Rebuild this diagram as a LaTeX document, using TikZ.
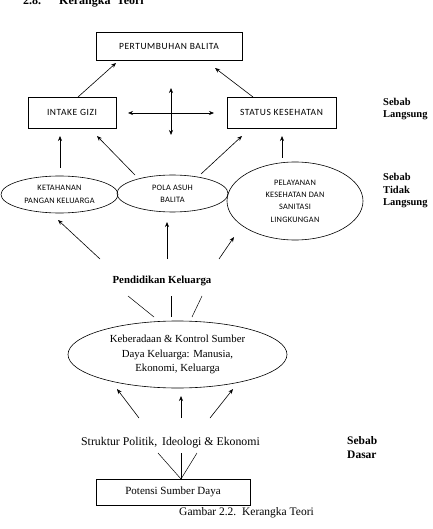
\documentclass[tikz,border=0pt]{standalone}
\usepackage{fontspec}
\setmainfont{Liberation Serif}
\newfontfamily\boxfont{Carlito}[LetterSpace=6]
\newfontfamily\ellfont{Carlito}[LetterSpace=3]
\usetikzlibrary{shapes.geometric,arrows.meta}
\begin{document}
\begin{tikzpicture}[x=1pt,y=-1pt,
  rbox/.style={draw,line width=0.6pt,rectangle,inner sep=0pt,font=\boxfont\fontsize{9.5}{11}\selectfont},
  ell/.style={draw,line width=0.6pt,ellipse,inner sep=0pt,align=center,font=\ellfont\fontsize{8.3}{12.3}\selectfont},
  arr/.style={-{Stealth[length=5pt,width=4pt]},line width=0.6pt},
  dbl/.style={{Stealth[length=5pt,width=4pt]}-{Stealth[length=5pt,width=4pt]},line width=0.6pt},
  ln/.style={line width=0.5pt},
  side/.style={font=\bfseries\fontsize{10.5}{12.3}\selectfont,align=left,anchor=north west,inner sep=0pt}]
\clip (0,0) rectangle (432,529);
\useasboundingbox (0,0) rectangle (432,529);
% heading
\node[anchor=base west,inner sep=0pt,font=\bfseries\fontsize{12}{14}\selectfont] (h1) at (23,4.5) {2.8.};
\node[anchor=base west,inner sep=0pt,font=\bfseries\fontsize{12}{14}\selectfont] (h2) at (59,4.5) {Kerangka\; Teori};
% boxes
\node[rbox,minimum width=146pt,minimum height=28pt] (pb) at (169,46) {PERTUMBUHAN BALITA};
\node[rbox,minimum width=88pt,minimum height=31pt] (ig) at (72,112.5) {INTAKE GIZI};
\node[rbox,minimum width=109pt,minimum height=31pt] (sk) at (281.5,112.5) {STATUS KESEHATAN};
% ellipses
\node[ell,minimum width=117pt,minimum height=37pt] (kp) at (59.5,194.5) {KETAHANAN\\PANGAN KELUARGA};
\node[ell,minimum width=111pt,minimum height=37pt] (pa) at (172.5,193.5) {POLA ASUH\\BALITA};
\node[ell,minimum width=136pt,minimum height=78pt] (pl) at (295,201) {PELAYANAN\\KESEHATAN DAN\\SANITASI\\LINGKUNGAN};
\node[draw,line width=0.6pt,ellipse,inner sep=0pt,align=center,minimum width=219pt,minimum height=67pt,font=\fontsize{10.8}{14.5}\selectfont] (kb) at (177.5,354.5) {Keberadaan \& Kontrol Sumber\\Daya Keluarga: Manusia,\\Ekonomi, Keluarga};
\node[draw,line width=0.6pt,inner sep=0pt,minimum width=154pt,minimum height=26pt,font=\fontsize{11}{12}\selectfont] (ps) at (173,492) {Potensi Sumber Daya};
% texts
\node[font=\bfseries\fontsize{10.8}{12}\selectfont,inner sep=0pt] (pk) at (162,281) {Pendidikan Keluarga};
\node[font=\fontsize{11.8}{14}\selectfont,inner sep=0pt] (sp) at (170.5,443) {Struktur Politik,\, Ideologi \& Ekonomi};
\node[font=\fontsize{11.5}{13}\selectfont,inner sep=0pt,anchor=base west] (gb) at (179,515) {Gambar 2.2.\, Kerangka Teori};
\node[side] (s1) at (383,98) {Sebab\\Langsung};
\node[side] (s2) at (383,173.5) {Sebab\\Tidak\\Langsung};
\node[side,font=\bfseries\fontsize{11.5}{14}\selectfont] (s3) at (347,436.5) {Sebab\\Dasar};
% coordinates
\coordinate (a1s) at (78,97); \coordinate (a1e) at (116,63);
\coordinate (a2s) at (253,97); \coordinate (a2e) at (215,68);
\coordinate (cvT) at (171,88); \coordinate (cvB) at (171,135);
\coordinate (chL) at (128,113); \coordinate (chR) at (214,113);
\coordinate (b1s) at (60,168); \coordinate (b1e) at (60,136);
\coordinate (b2s) at (135,175); \coordinate (b2e) at (97,136);
\coordinate (b3s) at (201,174); \coordinate (b3e) at (242,136);
\coordinate (b4s) at (282,158); \coordinate (b4e) at (282,136);
\coordinate (c1s) at (100,259); \coordinate (c1e) at (58,220);
\coordinate (c2s) at (167,259); \coordinate (c2e) at (167,222);
\coordinate (c3s) at (219,259); \coordinate (c3e) at (234,237);
\coordinate (d1a) at (128,296); \coordinate (d1b) at (154,317);
\coordinate (d2a) at (171,296); \coordinate (d2b) at (171,317);
\coordinate (d3a) at (202,296); \coordinate (d3b) at (192,317);
\coordinate (e1s) at (139,418); \coordinate (e1e) at (117,389);
\coordinate (e2s) at (181,418); \coordinate (e2e) at (181,396);
\coordinate (e3s) at (210,418); \coordinate (e3e) at (233,389);
\coordinate (f0) at (181,479);
\coordinate (f1) at (158,453); \coordinate (f2) at (181,453); \coordinate (f3) at (197,453);
% arrows
\draw[arr] (a1s) -- (a1e);
\draw[arr] (a2s) -- (a2e);
\draw[dbl] (cvT) -- (cvB);
\draw[dbl] (chL) -- (chR);
\draw[arr] (b1s) -- (b1e);
\draw[arr] (b2s) -- (b2e);
\draw[arr] (b3s) -- (b3e);
\draw[arr] (b4s) -- (b4e);
\draw[arr] (c1s) -- (c1e);
\draw[arr] (c2s) -- (c2e);
\draw[arr] (c3s) -- (c3e);
\draw[ln] (d1a) -- (d1b);
\draw[ln] (d2a) -- (d2b);
\draw[ln] (d3a) -- (d3b);
\draw[arr] (e1s) -- (e1e);
\draw[arr] (e2s) -- (e2e);
\draw[arr] (e3s) -- (e3e);
\draw[ln] (f0) -- (f1);
\draw[ln] (f0) -- (f2);
\draw[ln] (f0) -- (f3);
\end{tikzpicture}
\end{document}
